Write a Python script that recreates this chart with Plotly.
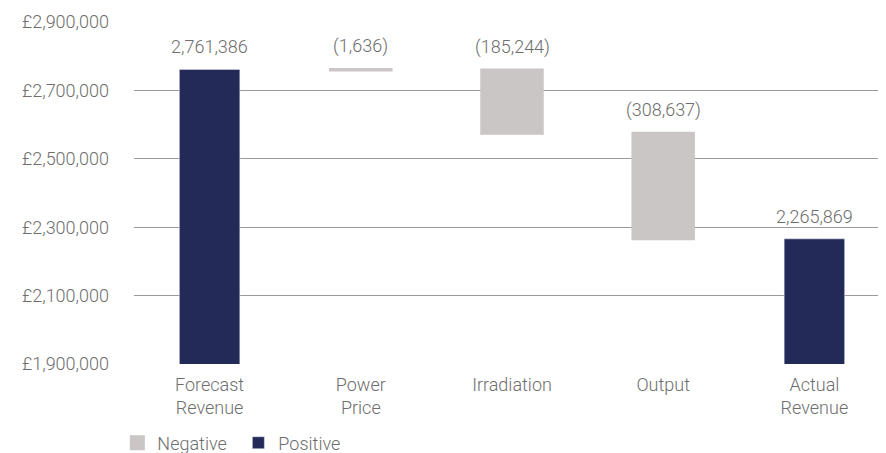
import plotly.graph_objects as go

categories = ["Forecast<br>Revenue", "Power<br>Price", "Irradiation", "Output", "Actual<br>Revenue"]
forecast_revenue = 2761386
changes = [-1636, -185244, -308637]
actual_revenue = 2265869

NAVY = "#232a58"
GREY = "#c9c6c5"
TEXT = "#6e6e6e"
FONT = dict(family="Roboto, sans-serif", size=18, color=TEXT, weight=300)

# running totals for the floating bars
tops, bases = [], []
level = forecast_revenue
for c in changes:
    tops.append(level)
    level += c
    bases.append(level)

fig = go.Figure()
fig.add_trace(go.Bar(
    name="Negative",
    x=categories[1:4],
    y=[-c for c in changes],
    base=bases,
    marker=dict(color=GREY, line=dict(color=GREY, width=3)),
    hoverinfo="skip",
))
fig.add_trace(go.Bar(
    name="Positive",
    x=[categories[0], categories[4]],
    y=[forecast_revenue, actual_revenue],
    marker_color=NAVY,
    hoverinfo="skip",
))

labels = [f"{forecast_revenue:,}"] + [f"({-c:,})" for c in changes] + [f"{actual_revenue:,}"]
label_y = [forecast_revenue] + tops + [actual_revenue]
for cat, txt, yv in zip(categories, labels, label_y):
    fig.add_annotation(x=cat, y=yv, text=txt, showarrow=False,
                       yanchor="bottom", yshift=10, font=FONT)

# page body adds an 8px offset, so the figure is shrunk to fit the window
fig.update_layout(
    width=882, height=445,
    margin=dict(l=126, r=0, t=14, b=89, autoexpand=False),
    plot_bgcolor="white", paper_bgcolor="white",
    font=FONT,
    bargap=0.6,
    barmode="overlay",
    showlegend=True,
    legend=dict(orientation="h", x=-0.022, xanchor="left",
                y=-0.177, yanchor="top",
                font=FONT, traceorder="normal",
                entrywidth=76, entrywidthmode="pixels"),
)
fig.update_yaxes(
    range=[1900000, 2900000], dtick=200000, tick0=1900000,
    tickprefix="£", tickformat=",d",
    showgrid=True, gridcolor="#9a9a9a", gridwidth=1,
    zeroline=False, showline=False, ticks="", ticklabelstandoff=24,
)
fig.update_xaxes(categoryorder="array", categoryarray=categories,
                 showline=False, ticks="", tickfont=FONT, ticklabelstandoff=8)

fig.write_html("out.html")
